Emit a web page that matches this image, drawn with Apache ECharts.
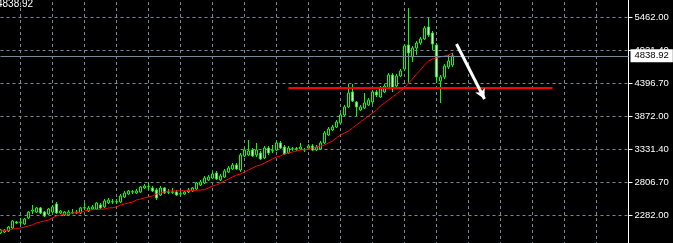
<!DOCTYPE html>
<html><head><meta charset="utf-8">
<script src="https://cdn.jsdelivr.net/npm/echarts@6/dist/echarts.min.js"></script>
<style>html,body{margin:0;padding:0;background:#000;}#c{width:673px;height:243px;}</style>
</head><body><div id="c"></div>
<script>
// ---- data ----
const openP = [
 1993, 2009, 2025, 2073, 2170, 2170, 2138, 2234, 2346, 2330,
 2395, 2330, 2298, 2330, 2459, 2314, 2282, 2282, 2314, 2314,
 2314, 2395, 2346, 2378, 2378, 2443, 2411, 2475, 2491, 2495,
 2491, 2571, 2619, 2652, 2635, 2652, 2716, 2732, 2716, 2684,
 2603, 2716, 2652, 2647, 2652, 2619, 2619, 2652, 2668, 2700,
 2764, 2796, 2844, 2876, 2957, 2844, 2892, 2973, 3021, 3085,
 3005, 3230, 3246, 3326, 3246, 3278, 3198, 3358, 3310, 3326,
 3439, 3374, 3278, 3342, 3347, 3342, 3326, 3358, 3390, 3326,
 3342, 3439, 3567, 3647, 3695, 3760, 3888, 4017, 4257, 4097,
 3968, 4000, 4049, 4097, 4257, 4177, 4257, 4322, 4530, 4354,
 4514, 4627, 5012, 4820, 4964, 5044, 5109, 5301, 5205, 5012,
 4434, 4498, 4659, 4691
];
const closeP = [
 2041, 2041, 2089, 2186, 2154, 2165, 2218, 2330, 2362, 2395,
 2314, 2266, 2378, 2411, 2314, 2346, 2330, 2330, 2320, 2330,
 2395, 2400, 2395, 2411, 2475, 2395, 2507, 2523, 2497, 2491,
 2587, 2635, 2668, 2657, 2668, 2732, 2748, 2737, 2668, 2555,
 2716, 2635, 2647, 2652, 2603, 2624, 2652, 2684, 2716, 2796,
 2812, 2876, 2892, 2941, 2860, 2908, 2989, 3037, 3085, 3021,
 3246, 3326, 3310, 3230, 3326, 3182, 3358, 3278, 3315, 3439,
 3358, 3262, 3358, 3347, 3342, 3374, 3331, 3390, 3326, 3374,
 3439, 3599, 3663, 3695, 3776, 3888, 4017, 4241, 4113, 4017,
 4017, 4081, 4129, 4257, 4209, 4322, 4354, 4530, 4322, 4514,
 4595, 4996, 4884, 4964, 5044, 5109, 5285, 5173, 5028, 4498,
 4498, 4675, 4755, 4838.92
];
const lowP = [
 1977, 1993, 2009, 2057, 2138, 2122, 2122, 2218, 2298, 2314,
 2298, 2250, 2282, 2314, 2298, 2298, 2266, 2266, 2298, 2298,
 2298, 2362, 2330, 2362, 2362, 2378, 2395, 2459, 2459, 2459,
 2475, 2555, 2603, 2619, 2619, 2635, 2700, 2684, 2652, 2523,
 2587, 2619, 2619, 2619, 2587, 2587, 2603, 2635, 2652, 2684,
 2748, 2780, 2828, 2860, 2844, 2828, 2876, 2957, 3005, 3005,
 2973, 3214, 3230, 3214, 3214, 3165, 3182, 3246, 3278, 3310,
 3342, 3246, 3262, 3310, 3310, 3326, 3294, 3342, 3310, 3310,
 3326, 3422, 3551, 3631, 3679, 3744, 3872, 4000, 4097, 3872,
 3952, 3984, 4033, 4065, 4177, 4161, 4241, 4306, 4257, 4338,
 4498, 4611, 4402, 4739, 4852, 5012, 5093, 5141, 4932, 4402,
 4081, 4466, 4627, 4659
];
const highP = [
 2057, 2057, 2106, 2202, 2186, 2234, 2234, 2346, 2443, 2411,
 2411, 2346, 2395, 2443, 2491, 2362, 2346, 2362, 2378, 2362,
 2411, 2475, 2427, 2443, 2491, 2475, 2539, 2555, 2539, 2539,
 2619, 2668, 2684, 2684, 2700, 2748, 2780, 2796, 2748, 2716,
 2748, 2732, 2700, 2716, 2684, 2668, 2668, 2716, 2732, 2812,
 2844, 2908, 2924, 2973, 2989, 2941, 3021, 3069, 3117, 3117,
 3278, 3358, 3487, 3358, 3439, 3310, 3390, 3390, 3406, 3471,
 3471, 3406, 3390, 3374, 3374, 3439, 3358, 3422, 3422, 3406,
 3471, 3631, 3695, 3728, 3808, 3920, 4049, 4386, 4386, 4113,
 4049, 4241, 4161, 4290, 4290, 4354, 4386, 4563, 4563, 4547,
 4627, 5028, 5607, 4996, 5077, 5141, 5317, 5446, 5237, 5044,
 4530, 4707, 4852, 4884
];
const maLine = [
 2025, 2030, 2041, 2057, 2062, 2073, 2089, 2106, 2122, 2154,
 2170, 2186, 2202, 2234, 2266, 2282, 2298, 2302, 2314, 2318,
 2322, 2346, 2362, 2366, 2370, 2374, 2378, 2395, 2398, 2411,
 2443, 2459, 2475, 2491, 2523, 2539, 2555, 2571, 2587, 2619,
 2635, 2652, 2668, 2668, 2670, 2670, 2672, 2672, 2675, 2678,
 2684, 2690, 2716, 2748, 2764, 2796, 2828, 2860, 2892, 2924,
 2941, 2973, 3005, 3037, 3069, 3085, 3117, 3149, 3182, 3214,
 3230, 3262, 3278, 3294, 3310, 3326, 3330, 3342, 3358, 3374,
 3390, 3406, 3439, 3471, 3519, 3567, 3599, 3631, 3679, 3728,
 3776, 3824, 3872, 3920, 3968, 4033, 4081, 4129, 4177, 4225,
 4274, 4322, 4402, 4466, 4547, 4611, 4691, 4755, 4787, 4804,
 4820, 4836, 4852, 4884
];
const yTickValues = [2282, 2812, 3342, 3872, 4402, 4932, 5462];
const yTickLabels = ['2282.00', '2806.70', '3331.40', '3872.00', '4396.70', '4921.40', '5462.00'];
const lastPrice = 4838.92;
const levelLine = [[72, 4322], [138, 4322]];
const arrowLine = [[114, 5028], [121, 4145]];
const barCount = 158;
const categories = Array.from({length: barCount}, (_, i) => String(i));

const candles = openP.map((o, i) => [o, closeP[i], lowP[i], highP[i]]);

const chart = echarts.init(document.getElementById('c'), null, {renderer: 'canvas'});
const FONT = 'Liberation Sans';
chart.setOption({
  backgroundColor: '#000000',
  animation: false,
  title: {
    text: lastPrice.toFixed(2), left: -3, top: -1, padding: 0,
    textStyle: {color: '#ffffff', fontSize: 10, fontWeight: 'normal', fontFamily: FONT}
  },
  grid: {left: 0.5, width: 628, top: -16, height: 264, containLabel: false, outerBoundsMode: 'none'},
  xAxis: {
    type: 'category', data: categories, boundaryGap: false,
    axisLine: {show: false}, axisTick: {show: false}, axisLabel: {show: false},
    splitLine: {show: true, interval: (i) => i % 8 === 5,
      lineStyle: {color: '#778899', width: 1, type: [3, 3]}}
  },
  yAxis: {
    type: 'value', position: 'right', min: 1752, max: 5992, interval: 530,
    axisLine: {show: true, lineStyle: {color: '#ffffff', width: 1}},
    axisTick: {show: true, length: 4, lineStyle: {color: '#ffffff'}},
    axisLabel: {
      color: '#ffffff', fontSize: 9.5, fontFamily: FONT, margin: 6,
      formatter: (v) => {
        const k = yTickValues.findIndex(t => Math.abs(t - v) < 1);
        return k >= 0 ? yTickLabels[k] : '';
      }
    },
    splitLine: {show: true, lineStyle: {color: '#778899', width: 1, type: [3, 3]}}
  },
  series: [
    {
      type: 'candlestick', data: candles, barWidth: 2,
      itemStyle: {color: '#000000', color0: '#ffffff', borderColor: '#00ff00', borderColor0: '#00ff00', borderWidth: 1},
      markLine: {
        silent: true, symbol: ['none', 'none'], animation: false,
        data: [{yAxis: lastPrice}],
        lineStyle: {color: '#778899', width: 1, type: 'solid'},
        label: {show: true, position: 'end', distance: 2, formatter: lastPrice.toFixed(2),
          color: '#000000', backgroundColor: '#ffffff', padding: [2, 4, 1, 4],
          fontSize: 9.5, fontFamily: FONT}
      }
    },
    {
      type: 'line', data: maLine, symbol: 'none', z: 3,
      lineStyle: {color: '#ff0000', width: 1},
      markLine: {
        silent: true, symbol: ['none', 'none'], animation: false,
        data: [[{coord: levelLine[0]}, {coord: levelLine[1]}]],
        lineStyle: {color: '#ff0000', width: 2, type: 'solid'},
        label: {show: false}
      }
    },
    {
      type: 'line', data: [], symbol: 'none', z: 4,
      markLine: {
        silent: true, symbol: ['none', 'arrow'], symbolSize: [8, 10], animation: false,
        data: [[{coord: arrowLine[0]}, {coord: arrowLine[1]}]],
        lineStyle: {color: '#ffffff', width: 3, type: 'solid'},
        label: {show: false}
      }
    }
  ]
});
</script></body></html>
